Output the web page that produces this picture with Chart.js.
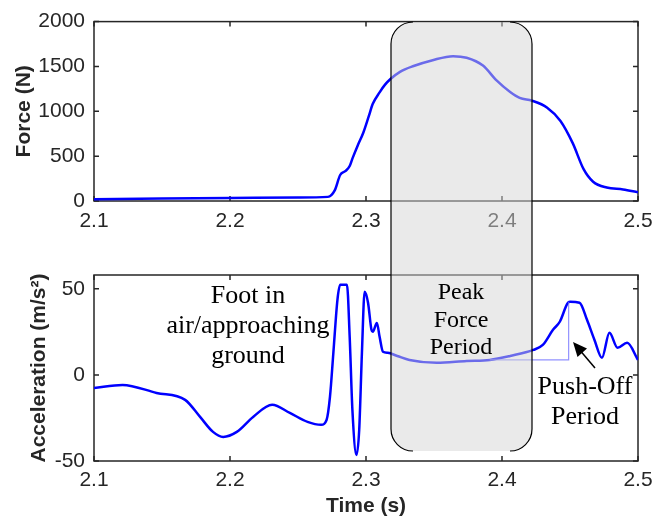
<!DOCTYPE html>
<html>
<head>
<meta charset="utf-8">
<script src="https://cdn.jsdelivr.net/npm/chart.js@4.4.1/dist/chart.umd.min.js"></script>
<style>
  html, body { margin:0; padding:0; background:#fff; }
  #wrap { position:relative; width:665px; height:520px; overflow:hidden; background:#fff; }
  canvas { position:absolute; left:0; }
  #overlay { position:absolute; left:0; top:0; }
  .ann { position:absolute; font-family:"Liberation Serif","Times New Roman",serif; color:#000; text-align:center; white-space:nowrap; }
</style>
</head>
<body>
<div id="wrap">
  <canvas id="forceChart" width="665" height="250" style="top:0"></canvas>
  <canvas id="accelChart" width="665" height="270" style="top:250px"></canvas>
  <svg id="overlay" width="665" height="520" xmlns="http://www.w3.org/2000/svg">
    <path d="M413,22 L510,22 A22,22 0 0 1 532,44 L532,429 A22,22 0 0 1 510,451 L413,451 A22,22 0 0 1 391,429 L391,44 A22,22 0 0 1 413,22 Z" fill="rgb(214,214,214)" fill-opacity="0.5"/>
    <path d="M413,22 A22,22 0 0 0 391,44 L391,429 A22,22 0 0 0 413,451" fill="none" stroke="#000" stroke-width="1.2"/>
    <path d="M510,22 A22,22 0 0 1 532,44 L532,429 A22,22 0 0 1 510,451" fill="none" stroke="#000" stroke-width="1.2"/>
    <line x1="595" y1="368" x2="581" y2="351.5" stroke="#000" stroke-width="1.5"/>
    <polygon points="573,342 587,348.5 577.5,357" fill="#000"/>
  </svg>
  <div class="ann" style="left:148px; top:280px; width:200px; font-size:26px; line-height:30px;">Foot in<br>air/approaching<br>ground</div>
  <div class="ann" style="left:401px; top:278px; width:120px; font-size:24px; line-height:27.5px;">Peak<br>Force<br>Period</div>
  <div class="ann" style="left:525px; top:371px; width:120px; font-size:26px; line-height:30px;">Push-Off<br>Period</div>
</div>
<script>
// ---- data ----
const forceTime = [2.100, 2.150, 2.200, 2.250, 2.272, 2.277, 2.281, 2.285, 2.288, 2.290, 2.294, 2.298, 2.302, 2.305, 2.310, 2.314, 2.318, 2.325, 2.335, 2.349, 2.364, 2.374, 2.386, 2.396, 2.406, 2.413, 2.422, 2.433, 2.443, 2.452, 2.460, 2.467, 2.477, 2.489, 2.500];
const forceValues = [20, 27, 33, 40, 46, 118, 290, 335, 390, 472, 622, 761, 943, 1083, 1211, 1297, 1360, 1440, 1505, 1570, 1615, 1597, 1510, 1344, 1215, 1150, 1118, 1043, 892, 645, 355, 215, 150, 129, 97];

const accelTime = [2.100, 2.121, 2.146, 2.167, 2.178, 2.1875, 2.195, 2.205, 2.217, 2.231, 2.244, 2.257, 2.267, 2.271, 2.2735, 2.276, 2.279, 2.281, 2.286, 2.288, 2.290, 2.293, 2.295, 2.297, 2.299, 2.3015, 2.304, 2.305, 2.308, 2.310, 2.3125, 2.316, 2.323, 2.332, 2.352, 2.374, 2.391, 2.406, 2.423, 2.430, 2.4375, 2.4426, 2.448, 2.450, 2.457, 2.4625, 2.468, 2.4735, 2.479, 2.485, 2.492, 2.500];
const accelValues = [-7.6, -5.8, -10.5, -14.5, -24.4, -33.1, -36, -33.1, -24.4, -17.4, -22.1, -27.3, -29, -26.2, -12.8, 12.8, 43.6, 52.3, 52.3, 22.1, -20.3, -46.5, -32, 12.8, 48.3, 41.9, 26.2, 25, 30.2, 22.1, 13.4, 12.8, 11, 8.7, 7, 8.1, 8.7, 11, 14.5, 17.4, 26.2, 31, 41.3, 42.4, 41.9, 32, 20.3, 9.9, 24.4, 15.7, 18.6, 8.7];

const pushOffMarkerTime = [2.391, 2.449, 2.449];
const pushOffMarkerValues = [8.7, 8.7, 42.4];

const xTickValues = [2.1, 2.2, 2.3, 2.4, 2.5];
const forceTickValues = [0, 500, 1000, 1500, 2000];
const accelTickValues = [-50, 0, 50];

// ---- helpers ----
const TXT = '#262626';
const FONT = '"Liberation Sans", Arial, sans-serif';
const pts = (xs, ys) => xs.map((x, i) => ({x: x, y: ys[i]}));

const boxPlugin = {
  id: 'matlabBox',
  beforeDatasetsDraw(chart) {
    const {ctx, chartArea: a, scales} = chart;
    const x = scales.x, y = scales.y;
    ctx.save();
    ctx.strokeStyle = TXT;
    ctx.lineWidth = 1.5;
    ctx.strokeRect(a.left, a.top, a.right - a.left, a.bottom - a.top);
    ctx.beginPath();
    x.ticks.forEach(t => {
      const px = x.getPixelForValue(t.value);
      ctx.moveTo(px, a.bottom); ctx.lineTo(px, a.bottom - 5);
      ctx.moveTo(px, a.top); ctx.lineTo(px, a.top + 5);
    });
    y.ticks.forEach(t => {
      const py = y.getPixelForValue(t.value);
      ctx.moveTo(a.left, py); ctx.lineTo(a.left + 5, py);
      ctx.moveTo(a.right, py); ctx.lineTo(a.right - 5, py);
    });
    ctx.stroke();
    ctx.restore();
  }
};

function makeChart(id, cfg) {
  return new Chart(document.getElementById(id), {
    type: 'line',
    data: { datasets: cfg.datasets },
    options: {
      responsive: false,
      animation: false,
      events: [],
      layout: { padding: { top: cfg.padTop, right: 27, left: 0, bottom: 0 } },
      plugins: { legend: { display: false }, tooltip: { enabled: false } },
      scales: {
        x: {
          type: 'linear', min: 2.1, max: 2.5,
          afterBuildTicks: s => { s.ticks = xTickValues.map(v => ({value: v})); },
          afterFit: s => { s.height = cfg.xHeight; },
          grid: { display: false, drawTicks: false },
          border: { display: false },
          ticks: { padding: cfg.xTickPad, color: TXT, font: { family: FONT, size: 21 }, maxRotation: 0, callback: v => Number(v).toFixed(1) },
          title: cfg.xTitle ? { display: true, text: cfg.xTitle, color: TXT, font: { family: FONT, size: 21, weight: 'bold' }, padding: { top: 0, bottom: 1 } } : { display: false }
        },
        y: {
          type: 'linear', min: cfg.yMin, max: cfg.yMax,
          afterBuildTicks: s => { s.ticks = cfg.yTicks.map(v => ({value: v})); },
          afterFit: s => { s.width = 94; },
          grid: { display: false, drawTicks: false },
          border: { display: false },
          ticks: { padding: 9, color: TXT, font: { family: FONT, size: 21 }, callback: v => String(v) },
          title: { display: true, text: cfg.yTitle, color: TXT, font: { family: FONT, size: 21, weight: 'bold' }, padding: { top: cfg.yTitlePad, bottom: 0 } }
        }
      }
    },
    plugins: [boxPlugin]
  });
}

makeChart('forceChart', {
  padTop: 15, xHeight: 49, xTickPad: 8,
  yMin: 0, yMax: 2000, yTicks: forceTickValues,
  yTitle: 'Force (N)', yTitlePad: 12,
  datasets: [{
    data: pts(forceTime, forceValues),
    borderColor: '#0000ff', borderWidth: 2.5, pointRadius: 0,
    cubicInterpolationMode: 'monotone', fill: false
  }]
});

makeChart('accelChart', {
  padTop: 25, xHeight: 59, xTickPad: 7,
  yMin: -50, yMax: 58, yTicks: accelTickValues,
  yTitle: 'Acceleration (m/s²)', yTitlePad: 27,
  xTitle: 'Time (s)',
  datasets: [{
    data: pts(pushOffMarkerTime, pushOffMarkerValues),
    borderColor: 'rgba(110,110,255,0.75)', borderWidth: 1.2, pointRadius: 0, tension: 0, fill: false
  }, {
    data: pts(accelTime, accelValues),
    borderColor: '#0000ff', borderWidth: 2.5, pointRadius: 0,
    cubicInterpolationMode: 'monotone', fill: false
  }]
});
</script>
</body>
</html>
